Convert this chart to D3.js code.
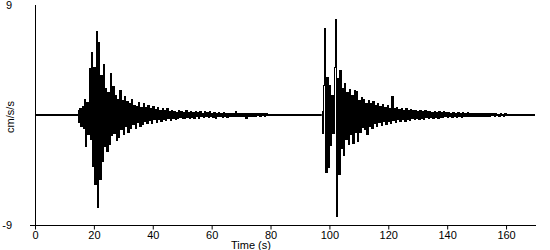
<!DOCTYPE html>
<html><head><meta charset="utf-8">
<script src="https://cdn.jsdelivr.net/npm/d3@7"></script>
<style>body{margin:0;background:#fff}svg{display:block}text{font-family:"Liberation Sans",Arial,sans-serif;font-size:11px;fill:#000}</style>
</head><body>
<svg id="chart" width="550" height="250"></svg>
<script>
const xTicks = [0, 20, 40, 60, 80, 100, 120, 140, 160];
const yTickLabels = ["9", "-9"];
const xLabel = "Time (s)";
const yLabel = "cm/s/s";
const sampleStep = 0.4;
// event 1 (starts 14.6 s), acceleration in cm/s/s
const event1Start = 14.6;
const event1 = [
 0.4,-0.6,0.5,-0.9,0.7,-1.1,1.3,-2.6,1.0,-1.6,
 3.8,-2.0,5.1,-4.2,3.9,-5.7,6.8,-7.6,5.9,-5.3,
 3.2,-3.8,4.1,-2.6,2.2,-3.0,1.8,-2.4,3.4,-1.7,
 2.3,-1.5,1.6,-2.1,1.3,-1.8,2.0,-1.2,1.2,-1.6,
 1.5,-0.9,1.1,-1.4,0.9,-1.1,1.3,-0.8,0.8,-1.1,
 0.7,-0.6,1.0,-0.9,0.6,-0.75,0.9,-0.5,0.6,-0.7,
 0.8,-0.45,0.5,-0.65,0.7,-0.4,0.45,-0.6,0.6,-0.4,
 0.4,-0.55,0.55,-0.35,0.35,-0.45,0.5,-0.3,0.3,-0.42,
 0.4,-0.25,0.28,-0.38,0.22,-0.3,0.35,-0.2,0.3,-0.28,
 0.2,-0.3,0.32,-0.18,0.22,-0.25,0.3,-0.17,0.2,-0.28,
 0.26,-0.15,0.18,-0.25,0.25,-0.14,0.15,-0.22,0.3,-0.15,
 0.16,-0.22,0.24,-0.13,0.14,-0.2,0.2,-0.3,0.15,-0.14,
 0.2,-0.12,0.13,-0.18,0.18,-0.11,0.12,-0.16,0.15,-0.1,
 0.12,-0.14,0.15,-0.1,0.3,-0.12,0.1,-0.13,0.14,-0.09,
 0.1,-0.12,0.12,-0.3,0.09,-0.1,0.12,-0.08,0.1,-0.1,
 0.08,-0.1,0.11,-0.07,0.09,-0.09,0.1,-0.07,0.08,-0.08,
 0.08,-0.07,0.07,-0.06
];
// event 2 (starts 97.4 s)
const event2Start = 97.4;
const event2 = [
 0.3,-1.5,2.4,7.1,-4.7,3.1,-4.3,2.4,-2.5,1.6,
 -1.5,3.9,7.8,-8.3,3.0,-4.9,3.6,-2.7,2.2,-3.3,
 2.6,-2.0,1.8,-2.4,2.1,-1.6,1.6,-2.3,2.0,-1.4,
 1.9,-2.2,1.2,-1.4,1.4,-1.0,1.3,-1.2,0.9,-1.6,
 1.2,-0.9,0.9,-1.1,1.1,-0.7,0.8,-0.95,0.9,-0.6,
 0.7,-0.85,0.85,-0.55,0.6,-0.8,0.8,-0.5,0.55,-0.7,
 1.5,-0.45,0.5,-0.6,0.6,-0.4,0.45,-0.55,0.55,-0.38,
 0.4,-0.5,0.5,-0.33,0.35,-0.45,0.45,-0.3,0.32,-0.4,
 0.38,-0.28,0.3,-0.36,0.36,-0.25,0.26,-0.32,0.33,-0.22,
 0.24,-0.3,0.3,-0.2,0.22,-0.27,0.27,-0.18,0.2,-0.24,
 0.25,-0.17,0.18,-0.23,0.24,-0.15,0.16,-0.21,0.21,-0.14,
 0.15,-0.19,0.2,-0.13,0.14,-0.18,0.18,-0.12,0.13,-0.16,
 0.17,-0.11,0.12,-0.15,0.16,-0.1,0.11,-0.14,0.14,-0.09,
 0.1,-0.13,0.13,-0.09,0.1,-0.12,0.12,-0.08,0.09,-0.11,
 0.11,-0.08,0.08,-0.1,0.1,-0.07,0.08,-0.09,0.1,-0.07,
 0.07,-0.09,0.09,-0.06,0.07,-0.08,0.08,-0.06,0.06,-0.07,
 0.07,-0.06,0.06,-0.07,0.07,-0.05,0.06,-0.06,0.06,-0.05,
 0.05,-0.06,0.06,-0.05,0.05,-0.05,0.05,-0.05,0.05,-0.05,0.05,-0.05
];
// quiet (flat) parts of the record, seconds
const quietParts = [[0, 14.6], [79.8, 97.4]];

const svg = d3.select("#chart");
const x = d3.scaleLinear().domain([0, 170]).range([35, 535.5]);
const y = d3.scaleLinear().domain([-9, 9]).range([225, 5]);

const toPts = (start, arr) => arr.map((v, i) => [start + i * sampleStep, v]);
const line = d3.line().x(d => x(d[0])).y(d => y(d[1]));
const stepLine = d3.line().x(d => x(d[0])).y(d => y(d[1])).curve(d3.curveStep);

// quiet baseline
svg.append("g").selectAll("path").data(quietParts).join("path")
  .attr("d", d => line([[d[0], 0], [d[1], 0]]))
  .attr("stroke", "#000").attr("stroke-width", 2).attr("fill", "none");

[toPts(event1Start, event1), toPts(event2Start, event2)].forEach(pts => {
  svg.append("path").attr("d", stepLine(pts))
    .attr("stroke", "#000").attr("stroke-width", 1.2).attr("fill", "none")
    .attr("shape-rendering", "crispEdges");
});

// x axis
const xAxis = d3.axisBottom(x).tickValues(xTicks).tickSize(4).tickSizeOuter(0);
const gx = svg.append("g").attr("transform", "translate(0,225.5)").call(xAxis);
gx.select(".domain").attr("d", `M30,0H${x(170)+0.5}`).attr("stroke", "#000");
gx.selectAll(".tick line").attr("stroke", "#000");
gx.selectAll(".tick text").attr("dy", "0.71em").attr("y", 6)
  .style("font-family", '"Liberation Sans",Arial,sans-serif').style("font-size", "11px");

// y axis line
svg.append("line").attr("x1", 35.5).attr("x2", 35.5).attr("y1", 5).attr("y2", 225)
  .attr("stroke", "#000");

// y tick labels (top and bottom only)
svg.selectAll(".ylab").data([9, -9]).join("text")
  .attr("class", "ylab")
  .attr("x", 12).attr("y", d => y(d) + 4)
  .attr("text-anchor", "end")
  .text((d, i) => yTickLabels[i]);

svg.append("text").attr("x", 251).attr("y", 249).attr("text-anchor", "middle").text(xLabel);
svg.append("text").attr("transform", "translate(14,117) rotate(-90)")
  .attr("text-anchor", "middle").text(yLabel);
</script>
</body></html>
